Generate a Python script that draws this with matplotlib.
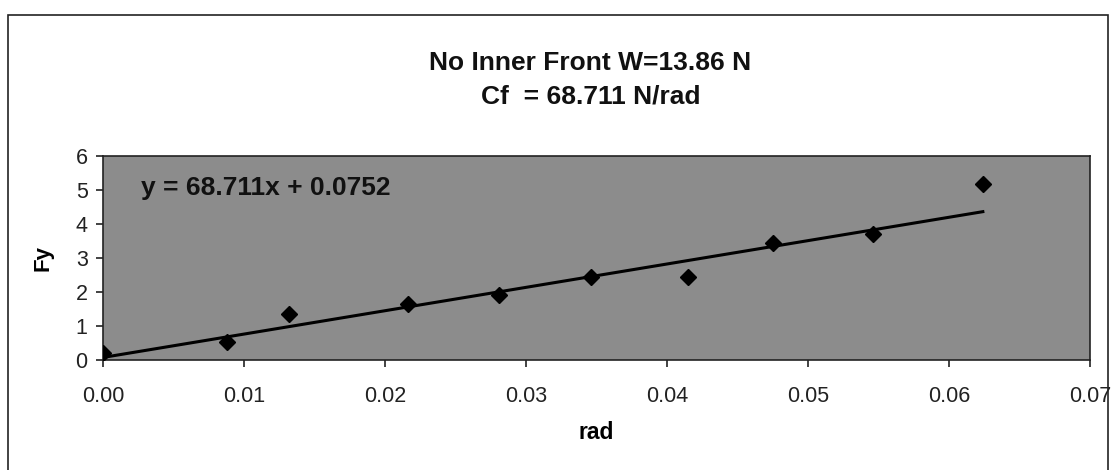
import matplotlib.pyplot as plt
import numpy as np
from matplotlib.patches import Rectangle

plt.rcParams['font.family'] = ['Liberation Sans', 'DejaVu Sans']

# slip angle (rad) vs lateral force Fy (N)
rad = [0.0000, 0.0088, 0.0132, 0.0216, 0.0281, 0.0346, 0.0415, 0.0475, 0.0546, 0.0624]
fy = [0.20, 0.52, 1.35, 1.65, 1.90, 2.45, 2.45, 3.45, 3.70, 5.18]

slope = 68.711
intercept = 0.0752

fig = plt.figure(figsize=(11.17, 4.7), dpi=100)
fig.patch.set_facecolor('white')

# chart area border
fig.patches.append(Rectangle((8 / 1117, -0.02), 1100 / 1117, 1 - 15 / 470 + 0.02,
                             transform=fig.transFigure, fill=False,
                             edgecolor='#222222', linewidth=1.2))

ax = fig.add_axes([103 / 1117, 110 / 470, 987 / 1117, 204 / 470])
ax.set_facecolor('#8c8c8c')

# linear trendline
xl = np.array([0.0, max(rad)])
ax.plot(xl, slope * xl + intercept, color='black', linewidth=2.2, zorder=2)
ax.plot(rad, fy, linestyle='none', marker='D', markersize=8,
        color='black', zorder=3)

ax.set_xlim(0, 0.07)
ax.set_ylim(0, 6)
ax.set_xticks(np.arange(0, 0.071, 0.01))
ax.set_xticklabels(['0.00', '0.01', '0.02', '0.03', '0.04', '0.05', '0.06', '0.07'])
ax.set_yticks(range(0, 7))
ax.tick_params(axis='both', direction='out', length=5, width=1.2,
               labelsize=15.5, colors='#222222')
ax.tick_params(axis='x', pad=14)
ax.tick_params(axis='y', pad=6)
for s in ax.spines.values():
    s.set_linewidth(1.2)
    s.set_color('#222222')

ax.text(0.0027, 5.05, 'y = 68.711x + 0.0752', fontsize=19, fontweight='bold',
        va='center', ha='left', color='#111111')

ax.set_xlabel('rad', fontsize=16.5, fontweight='bold', labelpad=10)
ax.set_ylabel('Fy', fontsize=16, fontweight='bold', labelpad=16)

fig.text(590 / 1117, 1 - 63 / 470, 'No Inner Front W=13.86 N', fontsize=19,
         fontweight='bold', ha='center', va='center', color='#111111')
fig.text(591 / 1117, 1 - 97 / 470, 'Cf  = 68.711 N/rad', fontsize=19,
         fontweight='bold', ha='center', va='center', color='#111111')

fig.savefig('out.png', dpi=100)
